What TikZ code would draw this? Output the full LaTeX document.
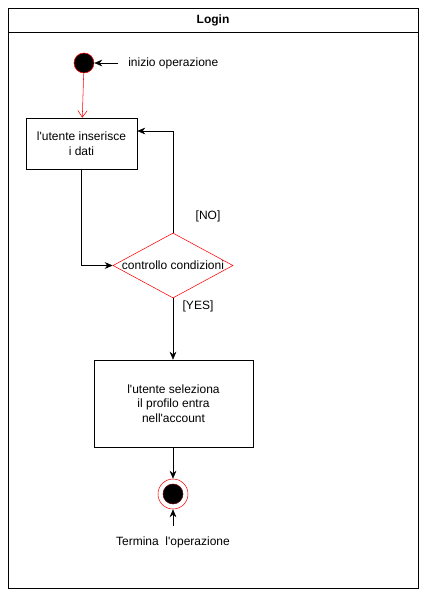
\documentclass[tikz,border=0pt]{standalone}
\usepackage{fontspec}
\setmainfont{Liberation Sans}
\usepackage{tikz}
\usetikzlibrary{shapes.geometric}
\usetikzlibrary{arrows.meta}
\tikzstyle{azione}=[draw, fill=white, inner sep=0pt, align=center, font=\fontsize{9}{11}\selectfont]
\tikzstyle{cond}=[diamond, draw=red, fill=white, inner sep=0pt, minimum width=90pt, minimum height=48.75pt]
\tikzstyle{testo}=[inner sep=0pt, font=\fontsize{9}{11}\selectfont]
\tikzstyle{freccia}=[-{Stealth[length=6pt,width=5pt]}]

\begin{document}
\begin{tikzpicture}[x=0.75pt, y=-0.75pt]
        \useasboundingbox (0, 0) rectangle (433, 603);
        % corsia
        \draw (8, 8) rectangle (418, 588);
        \draw (8, 32) -- (418, 32);
        \node[testo, font=\fontsize{9}{11}\selectfont\bfseries] (titolo) at (213, 20) {Login};
        % nodi
        \node[circle, draw=red, fill=black, minimum size=15pt, inner sep=0pt] (inizio) at (84, 63) {};
        \node[testo, anchor=west] (inizioTxt) at (128, 63) {inizio operazione};
        \node[azione, minimum width=83.25pt, minimum height=38.25pt] (inserisci) at (81.5, 143.5) {l\textquotesingle utente inserisce\\ i dati};
        \node[cond] (controllo) at (173, 265.5) {};
        \node[testo] (controlloTxt) at (173, 265.5) {controllo condizioni};
        \node[testo] (no) at (208, 216) {[NO]};
        \node[testo] (yes) at (198, 306) {[YES]};
        \node[azione, minimum width=119.25pt, minimum height=65.25pt] (seleziona) at (173.5, 403.5) {l\textquotesingle utente seleziona\\ il profilo entra\\ nell\textquotesingle account};
        \node[circle, draw=red, fill=white, minimum size=22.5pt, inner sep=0pt] (fine) at (173, 494) {};
        \node[circle, draw=red!40!black, fill=black, minimum size=15pt, inner sep=0pt] (fineDot) at (fine) {};
        \node[testo] (fineTxt) at (173, 542) {Termina\ \ l\textquotesingle operazione};
        % archi
        \draw[freccia] (inizioTxt.west) ++(-10, 0) coordinate (inizioCoda) -- (inizio.east);
        \draw[red, -{Straight Barb[length=5pt,width=7pt]}] (inizio) -- (inserisci);
        \draw[freccia] (inserisci.south) |- (controllo.west);
        \draw[freccia] (controllo.north) |- (inserisci.east |- 0, 131);
        \draw[freccia] (controllo.south) -- (seleziona.north -| controllo.south);
        \draw[freccia] (seleziona.south -| fine.north) -- (fine.north);
        \coordinate (fineCoda) at (173, 526);
        \draw[freccia] (fineCoda) -- (fine.south);
    \end{tikzpicture}
\end{document}
